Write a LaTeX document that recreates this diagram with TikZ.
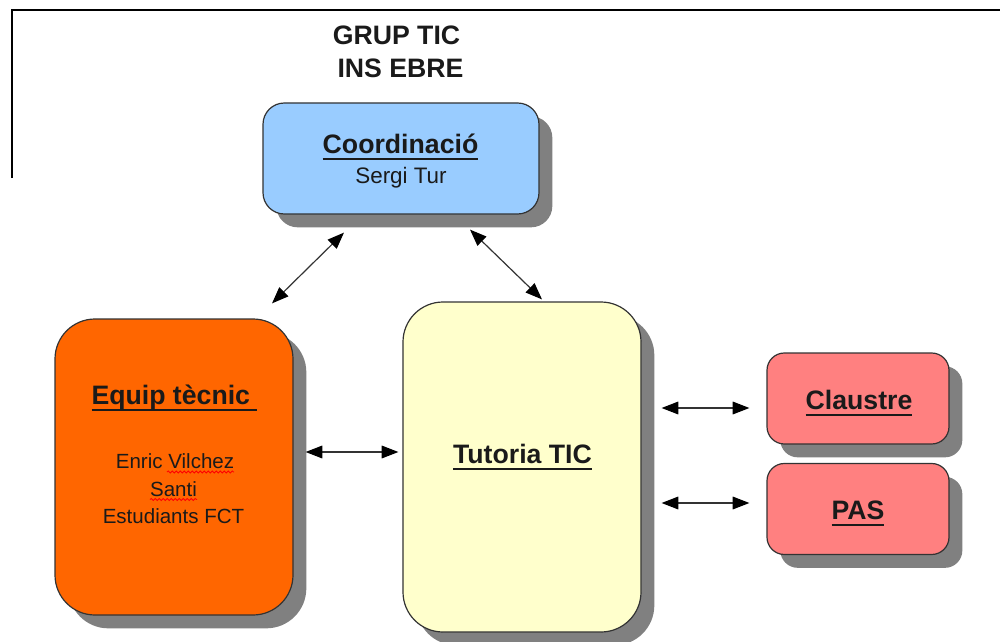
\documentclass[tikz,border=0pt]{standalone}
\usepackage{fontspec}
\setmainfont{Liberation Sans}
\usetikzlibrary{arrows.meta,shadows,decorations.pathmorphing,calc}

\definecolor{coordblue}{HTML}{99CCFF}
\definecolor{equiporange}{HTML}{FF6600}
\definecolor{tutyellow}{HTML}{FFFFCC}
\definecolor{grouppink}{HTML}{FF8080}
\definecolor{shadowgray}{HTML}{808080}
\definecolor{edgegray}{HTML}{333333}
\definecolor{inkdark}{HTML}{1A1A1A}

% underlined heading text: rule as wide as the word, just below the baseline
\newcommand\ulinetxt[1]{{\setbox0=\hbox{#1}\rlap{\rule[-0.245em]{\wd0}{0.075em}}\box0}}

\tikzset{
  orgbox/.style={draw=edgegray, line width=0.9pt, inner sep=0pt,
    drop shadow={shadow xshift=10pt, shadow yshift=-10pt, fill=shadowgray, opacity=1}},
  headtxt/.style={anchor=base, inner sep=0pt, text=inkdark, font=\bfseries\fontsize{20}{24}\selectfont},
  nametxt/.style={anchor=base, inner sep=0pt, text=inkdark, font=\fontsize{15.4}{18}\selectfont},
  conn/.style={draw=edgegray, line width=0.9pt,
    arrows={Triangle[length=12.5pt,width=9.5pt,color=black]-Triangle[length=12.5pt,width=9.5pt,color=black]}},
  spellmark/.style={draw=red, line width=0.6pt, decorate,
    decoration={snake, amplitude=0.8pt, segment length=3pt}}
}

\begin{document}
\begin{tikzpicture}[x=0.75pt, y=-0.75pt]
\useasboundingbox (0,0) rectangle (1000,642);

% page frame corner
\draw[line width=1pt, black] (12,178) -- (12,10) -- (1000,10);

% title
\node[headtxt] (grup) at (396.5,45) {GRUP TIC};
\node[headtxt] (ins) at (400.5,78) {INS EBRE};

% boxes
\node[orgbox, fill=coordblue, rounded corners=16pt, minimum width=207pt, minimum height=83.25pt] (coo) at (401,158.5) {};
\node[orgbox, fill=equiporange, rounded corners=30pt, minimum width=178.5pt, minimum height=222pt] (equ) at (174,467) {};
\node[orgbox, fill=tutyellow, rounded corners=30pt, minimum width=178.5pt, minimum height=247.5pt] (tut) at (522,467) {};
\node[orgbox, fill=grouppink, rounded corners=13pt, minimum width=136.5pt, minimum height=68.25pt] (cla) at (858,398.5) {};
\node[orgbox, fill=grouppink, rounded corners=13pt, minimum width=136.5pt, minimum height=68.25pt] (pas) at (858,509) {};

% box texts
\node[headtxt] (cooT) at (400.5,153) {\ulinetxt{Coordinació}};
\node[anchor=base, inner sep=0pt, text=inkdark, font=\fontsize{16.8}{20}\selectfont] (sergi) at (401,183) {Sergi Tur};

\node[headtxt] (equT) at (174.5,404) {\ulinetxt{Equip tècnic\ }};
\node[nametxt] (enric) at (175,468) {Enric Vilchez};
\node[nametxt] (santi) at (173.5,496) {Santi};
\node[nametxt] (fct) at (173.5,523) {Estudiants FCT};
\draw[spellmark] (167,472) -- (234,472);
\draw[spellmark] (150,499.5) -- (197,499.5);

\node[headtxt] (tutT) at (522.5,463) {\ulinetxt{Tutoria TIC}};
\node[headtxt] (claT) at (859,409) {\ulinetxt{Claustre}};
\node[headtxt] (pasT) at (858,519) {\ulinetxt{PAS}};

% connectors
\draw[conn] ([shift={(98,-15)}]equ.north) -- ([shift={(-57,18)}]coo.south);
\draw[conn] ([shift={(69,15)}]coo.south) -- ([shift={(20,-2)}]tut.north);
\draw[conn] ([shift={(12,-15)}]equ.east) -- ([shift={(-4,-15)}]tut.west);
\draw[conn] ([shift={(20,-59)}]tut.east) -- ([shift={(-17,9.5)}]cla.west);
\draw[conn] ([shift={(20,36)}]tut.east) -- ([shift={(-17,-6)}]pas.west);
\end{tikzpicture}
\end{document}
